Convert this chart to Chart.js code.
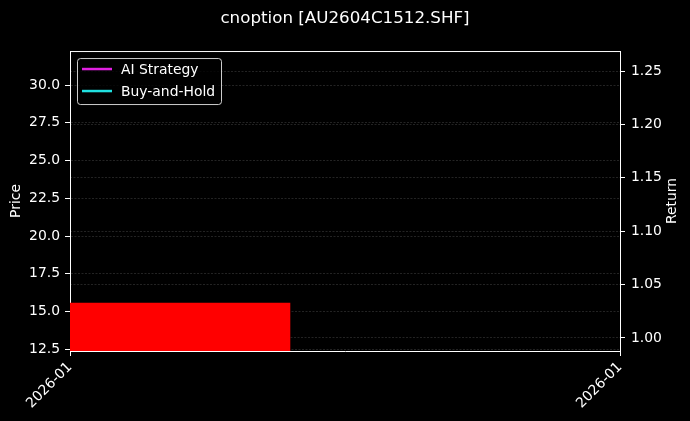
<!DOCTYPE html>
<html>
<head>
<meta charset="utf-8">
<script src="https://cdn.jsdelivr.net/npm/chart.js@4"></script>
<style>
  html, body { margin: 0; padding: 0; background: #000; }
</style>
</head>
<body>
<canvas id="chart" width="690" height="421"></canvas>
<script>
// data
const xTicks = [0, 1];
const xLabels = ['2026-01', '2026-01'];
const priceX = [0, 0.401];
const priceY = [15.59, 15.59];
const aiReturn = [];
const holdReturn = [];
const priceTicks = [12.5, 15.0, 17.5, 20.0, 22.5, 25.0, 27.5, 30.0];
const returnTicks = [1.00, 1.05, 1.10, 1.15, 1.20, 1.25];

const FONT = 'DejaVu Sans';
const FS = 13.9;
const gridColor = 'rgba(150, 150, 150, 0.4)';

// top spine + right axis title (matplotlib reads it bottom to top)
const framePlugin = {
    id: 'frame',
    afterDatasetsDraw(chart) {
        const { ctx, chartArea: a } = chart;
        ctx.save();
        ctx.strokeStyle = '#ffffff';
        ctx.lineWidth = 1;
        ctx.beginPath();
        ctx.moveTo(a.left, a.top + 0.5);
        ctx.lineTo(a.right, a.top + 0.5);
        ctx.stroke();
        ctx.translate(672, (a.top + a.bottom) / 2);
        ctx.rotate(-Math.PI / 2);
        ctx.fillStyle = '#ffffff';
        ctx.font = FS + 'px ' + FONT;
        ctx.textAlign = 'center';
        ctx.textBaseline = 'middle';
        ctx.fillText('Return', 0, 0);
        ctx.restore();
    }
};

const boxLegend = {
    id: 'boxLegend',
    afterDraw(chart) {
        const { ctx, chartArea: a } = chart;
        const x = a.left + 7, y = a.top + 7, w = 144, h = 46;
        ctx.save();
        ctx.fillStyle = 'rgba(0, 0, 0, 0.8)';
        ctx.strokeStyle = 'rgba(255, 255, 255, 0.8)';
        ctx.lineWidth = 1;
        ctx.beginPath();
        ctx.roundRect(x + 0.5, y + 0.5, w, h, 3);
        ctx.fill();
        ctx.stroke();
        ctx.font = FS + 'px ' + FONT;
        ctx.textBaseline = 'middle';
        chart.data.datasets.filter(d => d.inLegend).forEach((d, i) => {
            const ly = y + 11 + i * 22;
            ctx.strokeStyle = d.borderColor;
            ctx.lineWidth = 2.5;
            ctx.beginPath();
            ctx.moveTo(x + 5, ly);
            ctx.lineTo(x + 35, ly);
            ctx.stroke();
            ctx.fillStyle = '#ffffff';
            ctx.fillText(d.label, x + 44, ly + 1);
        });
        ctx.restore();
    }
};

new Chart(document.getElementById('chart'), {
    type: 'line',
    data: {
        datasets: [
            {
                label: 'Price',
                data: priceX.map((x, i) => ({ x: x, y: priceY[i] })),
                yAxisID: 'y',
                backgroundColor: '#ff0000',
                borderWidth: 0,
                pointRadius: 0,
                fill: 'origin'
            },
            {
                label: 'AI Strategy',
                data: aiReturn,
                yAxisID: 'y1',
                borderColor: '#e020e0',
                borderWidth: 2,
                pointRadius: 0,
                inLegend: true
            },
            {
                label: 'Buy-and-Hold',
                data: holdReturn,
                yAxisID: 'y1',
                borderColor: '#20e0e0',
                borderWidth: 2,
                pointRadius: 0,
                inLegend: true
            }
        ]
    },
    options: {
        responsive: false,
        animation: false,
        layout: { padding: 0 },
        plugins: {
            legend: { display: false },
            tooltip: { enabled: false },
            title: {
                display: true,
                text: 'cnoption [AU2604C1512.SHF]',
                color: '#ffffff',
                font: { family: FONT, size: 16.7, weight: 'normal' },
                padding: { top: 9, bottom: 22 }
            }
        },
        scales: {
            x: {
                type: 'linear',
                min: 0,
                max: 1,
                afterBuildTicks: s => { s.ticks = xTicks.map(v => ({ value: v })); },
                afterFit: s => { s.height = 70; },
                ticks: {
                    callback: (v, i) => xLabels[i],
                    color: '#ffffff',
                    font: { family: FONT, size: FS },
                    minRotation: 45,
                    maxRotation: 45,
                    autoSkip: false
                },
                grid: {
                    drawOnChartArea: false,
                    tickColor: '#ffffff',
                    tickLength: 5
                },
                border: { color: '#ffffff', width: 1 }
            },
            y: {
                position: 'left',
                min: 12.39,
                max: 32.25,
                afterBuildTicks: s => { s.ticks = priceTicks.map(v => ({ value: v })); },
                afterFit: s => { s.width = 70; },
                ticks: {
                    callback: v => v.toFixed(1),
                    color: '#ffffff',
                    font: { family: FONT, size: FS },
                    padding: 5
                },
                grid: {
                    color: gridColor,
                    lineWidth: 0.6,
                    tickColor: '#ffffff',
                    tickWidth: 1,
                    tickLength: 5
                },
                border: { color: '#ffffff', width: 1, dash: [2, 1.5] },
                title: {
                    display: true,
                    text: 'Price',
                    color: '#ffffff',
                    font: { family: FONT, size: FS },
                    padding: { top: 8, bottom: 0 }
                }
            },
            y1: {
                position: 'right',
                min: 0.9878,
                max: 1.2687,
                afterBuildTicks: s => { s.ticks = returnTicks.map(v => ({ value: v })); },
                afterFit: s => { s.width = 70; },
                ticks: {
                    callback: v => v.toFixed(2),
                    color: '#ffffff',
                    font: { family: FONT, size: FS },
                    padding: 6
                },
                grid: {
                    color: gridColor,
                    lineWidth: 0.6,
                    tickColor: '#ffffff',
                    tickWidth: 1,
                    tickLength: 5
                },
                border: { color: '#ffffff', width: 1, dash: [2, 1.5] }
            }
        }
    },
    plugins: [framePlugin, boxLegend]
});
</script>
</body>
</html>
